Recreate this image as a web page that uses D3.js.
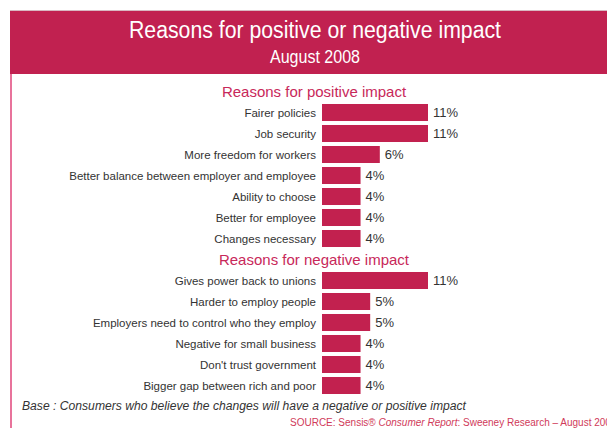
<!DOCTYPE html>
<html>
<head>
<meta charset="utf-8">
<script src="https://cdn.jsdelivr.net/npm/d3@7"></script>
<style>
  body { margin: 0; background: #fff; }
  svg { display: block; }
</style>
</head>
<body>
<svg id="chart"></svg>
<script>
const posLabels = ["Fairer policies", "Job security", "More freedom for workers",
  "Better balance between employer and employee", "Ability to choose",
  "Better for employee", "Changes necessary"];
const posValues = [11, 11, 6, 4, 4, 4, 4];

const negLabels = ["Gives power back to unions", "Harder to employ people",
  "Employers need to control who they employ", "Negative for small business",
  "Don't trust government", "Bigger gap between rich and poor"];
const negValues = [11, 5, 5, 4, 4, 4];

const width = 607, height = 428;
const barColor = "#c2214f";
const font = "'Liberation Sans', Arial, sans-serif";

const svg = d3.select("#chart").attr("width", width).attr("height", height);

// header band
svg.append("line")
  .attr("x1", 10).attr("x2", width).attr("y1", 10.5).attr("y2", 10.5)
  .attr("stroke", "#d9b8c2").attr("stroke-width", 1);
svg.append("rect")
  .attr("x", 10).attr("y", 11).attr("width", width - 10).attr("height", 63)
  .attr("fill", "#c12150");
svg.append("line")
  .attr("x1", 11).attr("x2", 11).attr("y1", 74).attr("y2", height)
  .attr("stroke", "#e0457a").attr("stroke-width", 1.5);

svg.append("text")
  .attr("x", 315).attr("y", 38)
  .attr("text-anchor", "middle")
  .attr("fill", "#fff")
  .attr("font-family", font)
  .attr("font-size", 23)
  .attr("textLength", 372).attr("lengthAdjust", "spacingAndGlyphs")
  .text("Reasons for positive or negative impact");
svg.append("text")
  .attr("x", 315).attr("y", 63)
  .attr("text-anchor", "middle")
  .attr("fill", "#fff")
  .attr("font-family", font)
  .attr("font-size", 18)
  .attr("textLength", 90).attr("lengthAdjust", "spacingAndGlyphs")
  .text("August 2008");

const x = d3.scaleLinear().domain([0, 11]).range([322, 428]);

function drawGroup(title, titleY, labels, values, y0) {
  const y = d3.scaleBand()
    .domain(labels)
    .range([y0, y0 + labels.length * 21])
    .paddingInner(0.19).paddingOuter(0.095);

  svg.append("text")
    .attr("x", 314).attr("y", titleY)
    .attr("text-anchor", "middle")
    .attr("fill", "#c8285a")
    .attr("font-family", font)
    .attr("font-size", 15)
    .text(title);

  const g = svg.append("g");
  g.selectAll("rect")
    .data(values)
    .join("rect")
    .attr("x", x(0))
    .attr("y", (d, i) => y(labels[i]))
    .attr("width", d => x(d) - x(0))
    .attr("height", y.bandwidth())
    .attr("fill", barColor);

  g.selectAll("text.cat")
    .data(labels)
    .join("text")
    .attr("class", "cat")
    .attr("x", 316)
    .attr("y", d => y(d) + y.bandwidth() / 2)
    .attr("dy", "0.35em")
    .attr("text-anchor", "end")
    .attr("fill", "#333")
    .attr("font-family", font)
    .attr("font-size", 11.5)
    .text(d => d);

  g.selectAll("text.val")
    .data(values)
    .join("text")
    .attr("class", "val")
    .attr("x", d => x(d) + 5)
    .attr("y", (d, i) => y(labels[i]) + y.bandwidth() / 2)
    .attr("dy", "0.35em")
    .attr("fill", "#333")
    .attr("font-family", font)
    .attr("font-size", 13)
    .text(d => d + "%");
}

drawGroup("Reasons for positive impact", 97, posLabels, posValues, 102);
drawGroup("Reasons for negative impact", 265, negLabels, negValues, 270);

svg.append("text")
  .attr("x", 22).attr("y", 410)
  .attr("fill", "#333")
  .attr("font-family", font)
  .attr("font-style", "italic")
  .attr("font-size", 12.5)
  .attr("textLength", 444).attr("lengthAdjust", "spacingAndGlyphs")
  .text("Base : Consumers who believe the changes will have a negative or positive impact");

const src = svg.append("text")
  .attr("x", 290).attr("y", 426)
  .attr("fill", "#d03a5a")
  .attr("font-family", font)
  .attr("font-size", 10);
src.append("tspan").text("SOURCE: Sensis® ");
src.append("tspan").attr("font-style", "italic").text("Consumer Report");
src.append("tspan").text(": Sweeney Research – August 2008");
</script>
</body>
</html>
